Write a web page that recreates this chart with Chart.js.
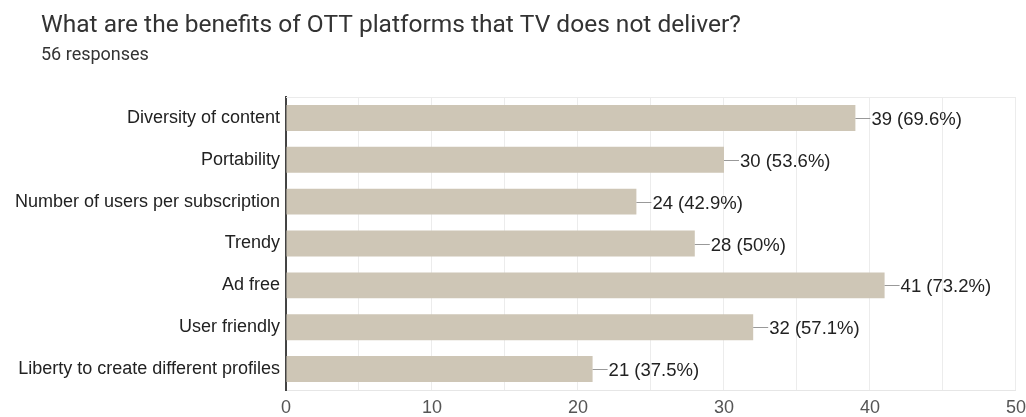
<!DOCTYPE html>
<html>
<head>
<meta charset="utf-8">
<script src="https://cdn.jsdelivr.net/npm/chart.js@4"></script>
<style>
  html, body { margin: 0; padding: 0; background: #fff; }
  #wrap { width: 1026px; height: 417px; }
</style>
</head>
<body>
<div id="wrap"><canvas id="benefits-chart" width="1026" height="417"></canvas></div>
<script>
const titleText = 'What are the benefits of OTT platforms that TV does not deliver?';
const subtitleText = '56 responses';
const categories = [
  'Diversity of content',
  'Portability',
  'Number of users per subscription',
  'Trendy',
  'Ad free',
  'User friendly',
  'Liberty to create different profiles'
];
const counts = [39, 30, 24, 28, 41, 32, 21];
const percents = ['69.6%', '53.6%', '42.9%', '50%', '73.2%', '57.1%', '37.5%'];
const xTicks = [0, 10, 20, 30, 40, 50];

const ctx = document.getElementById('benefits-chart');
const labelFont = '"Liberation Sans", Arial, sans-serif';

// heading is drawn by hand so it can sit indented while the y labels keep the full left side
const heading = {
  id: 'heading',
  beforeDraw(chart) {
    const c = chart.ctx;
    c.save();
    c.fillStyle = '#333';
    c.textBaseline = 'middle';
    c.font = '24.5px Roboto';
    c.fillText(titleText, 41, 26);
    c.font = '18px Roboto';
    c.fillText(subtitleText, 41, 55);
    c.restore();
  }
};

// little line + "n (p%)" after each bar, like google forms
const barLabels = {
  id: 'barLabels',
  afterDatasetsDraw(chart) {
    const c = chart.ctx;
    const area = chart.chartArea;
    c.save();
    // light top border of the plot
    c.strokeStyle = '#ebebeb';
    c.lineWidth = 1;
    c.beginPath();
    c.moveTo(area.left, area.top + 0.5);
    c.lineTo(area.right, area.top + 0.5);
    c.stroke();

    const meta = chart.getDatasetMeta(0);
    c.font = `18.5px ${labelFont}`;
    c.fillStyle = '#222';
    c.textBaseline = 'middle';
    meta.data.forEach((bar, i) => {
      const x = bar.x;
      const y = Math.round(bar.y) + 0.5;
      c.strokeStyle = '#999';
      c.beginPath();
      c.moveTo(x, y);
      c.lineTo(x + 15, y);
      c.stroke();
      c.fillText(`${counts[i]} (${percents[i]})`, x + 16, y + 1);
    });
    c.restore();
  }
};

new Chart(ctx, {
  type: 'bar',
  data: {
    labels: categories,
    datasets: [{
      data: counts,
      backgroundColor: '#cec6b6',
      borderWidth: 0,
      barPercentage: 0.62,
      categoryPercentage: 1
    }]
  },
  plugins: [heading, barLabels],
  options: {
    indexAxis: 'y',
    responsive: false,
    animation: false,
    layout: { padding: { left: 0, right: 0, top: 97, bottom: 0 } },
    scales: {
      x: {
        min: 0,
        max: 50,
        afterFit: (scale) => { scale.height = 27; },
        ticks: {
          stepSize: 5,
          padding: 0,
          color: '#555',
          font: { family: labelFont, size: 18, lineHeight: 2 },
          maxRotation: 0,
          callback: (v) => xTicks.includes(v) ? v : ''
        },
        grid: { color: '#ececec', drawTicks: false },
        border: { color: '#e6e6e6' }
      },
      y: {
        afterFit: (scale) => { scale.width = 286; },
        ticks: {
          padding: 6,
          color: '#222',
          font: { family: labelFont, size: 18 }
        },
        grid: { display: false, drawTicks: false },
        border: { color: '#444', width: 2 }
      }
    },
    plugins: {
      legend: { display: false },
      tooltip: { enabled: false }
    }
  }
});
</script>
</body>
</html>
